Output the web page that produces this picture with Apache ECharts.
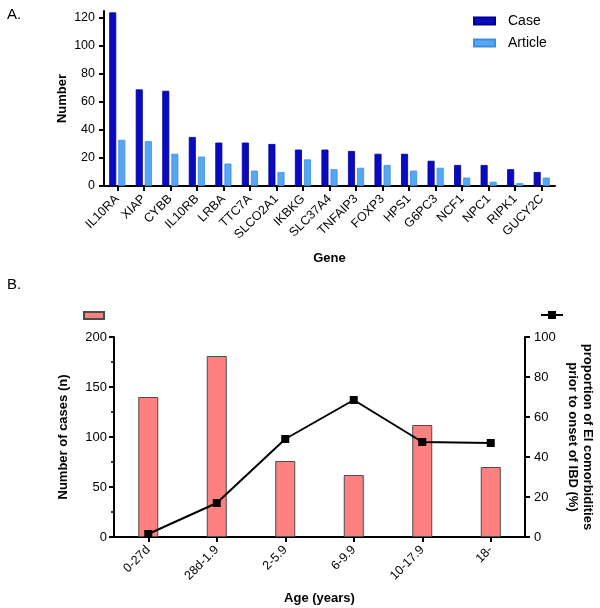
<!DOCTYPE html>
<html><head><meta charset="utf-8">
<script src="https://cdn.jsdelivr.net/npm/echarts@6/dist/echarts.min.js"></script>
<style>html,body{margin:0;padding:0;background:#fff}#c{width:600px;height:608px}</style>
</head><body><div id="c"></div>
<script>
const genes = ['IL10RA','XIAP','CYBB','IL10RB','LRBA','TTC7A','SLCO2A1','IKBKG','SLC37A4','TNFAIP3','FOXP3','HPS1','G6PC3','NCF1','NPC1','RIPK1','GUCY2C'];
const caseCounts = [124,69,68,35,31,31,30,26,26,25,23,23,18,15,15,12,10];
const articleCounts = [33,32,23,21,16,11,10,19,12,13,15,11,13,6,3,2,6];
const numberTicks = [0,20,40,60,80,100,120];

const ageGroups = ['0-27d','28d-1.9','2-5.9','6-9.9','10-17.9','18-'];
const casesByAge = [140,181,76,62,112,70];
const eiProportion = [1.5,17,49,68.5,47.5,47];

const FONT = 'Liberation Sans, Arial, sans-serif';
const axisLine = {show:true, lineStyle:{color:'#000', width:2}};
const axisTick = {show:true, length:5, lineStyle:{color:'#000', width:2}};

const chart = echarts.init(document.getElementById('c'), null, {renderer:'canvas'});
chart.setOption({
  animation:false,
  textStyle:{fontFamily:FONT},
  title:[
    {text:'A.', left:2, top:2, textStyle:{fontSize:15, fontWeight:'normal', color:'#000', fontFamily:FONT}},
    {text:'B.', left:2, top:272, textStyle:{fontSize:15, fontWeight:'normal', color:'#000', fontFamily:FONT}}
  ],
  legend:[
    {data:['Case','Article'], orient:'vertical', left:473, top:14, padding:0, itemWidth:21, itemHeight:7, itemGap:8, icon:'rect',
     textStyle:{fontSize:14, color:'#000', fontFamily:FONT, padding:[0,0,0,8]}},
    {data:['Number of cases'], left:83, top:311, padding:0, itemWidth:20, itemHeight:7, icon:'rect', formatter:()=>'',
     textStyle:{fontSize:1}},
    {data:['Proportion'], left:540, top:310, padding:0, itemWidth:22, itemHeight:10, formatter:()=>'', textStyle:{fontSize:1}}
  ],
  grid:[
    {left:104, right:45, top:11, bottom:422, containLabel:false, outerBoundsMode:'none'},
    {left:114, right:75, top:337, bottom:71, containLabel:false, outerBoundsMode:'none'}
  ],
  xAxis:[
    {type:'category', gridIndex:0, data:genes, axisLine, axisTick:{...axisTick, alignWithLabel:true},
     axisLabel:{rotate:45, fontSize:12.5, color:'#000', margin:11, interval:0, fontFamily:FONT},
     name:'Gene', nameLocation:'middle', nameGap:66, nameMoveOverlap:false,
     nameTextStyle:{fontWeight:'bold', fontSize:13, color:'#000', fontFamily:FONT}},
    {type:'category', gridIndex:1, data:ageGroups, axisLine, axisTick:{...axisTick, alignWithLabel:true},
     axisLabel:{rotate:45, fontSize:12.5, color:'#000', margin:11, interval:0, fontFamily:FONT},
     name:'Age (years)', nameLocation:'middle', nameGap:55, nameMoveOverlap:false,
     nameTextStyle:{fontWeight:'bold', fontSize:13, color:'#000', fontFamily:FONT}}
  ],
  yAxis:[
    {type:'value', gridIndex:0, min:0, max:125, interval:20, axisLine, axisTick:{...axisTick, customValues:numberTicks},
     splitLine:{show:false},
     axisLabel:{fontSize:12.5, color:'#000', margin:9, customValues:numberTicks, fontFamily:FONT},
     name:'Number', nameLocation:'middle', nameRotate:90, nameGap:35, nameMoveOverlap:false,
     nameTextStyle:{fontWeight:'bold', fontSize:13, color:'#000', fontFamily:FONT}},
    {type:'value', gridIndex:1, min:0, max:200, interval:50, axisLine, axisTick,
     minorTick:{show:true, splitNumber:2, length:3, lineStyle:{color:'#000', width:1.5}},
     splitLine:{show:false},
     axisLabel:{fontSize:13, color:'#000', margin:7, fontFamily:FONT},
     name:'Number of cases (n)', nameLocation:'middle', nameRotate:90, nameGap:44, nameMoveOverlap:false,
     nameTextStyle:{fontWeight:'bold', fontSize:13, color:'#000', fontFamily:FONT}},
    {type:'value', gridIndex:1, position:'right', min:0, max:100, interval:20, axisLine, axisTick,
     splitLine:{show:false},
     axisLabel:{fontSize:13, color:'#000', margin:9, fontFamily:FONT},
     name:'proportion of EI comorbidities\nprior to onset of IBD (%)', nameLocation:'middle', nameRotate:-90, nameGap:40, nameMoveOverlap:false,
     nameTextStyle:{fontWeight:'bold', fontSize:13, color:'#000', lineHeight:15, fontFamily:FONT}}
  ],
  series:[
    {name:'Case', type:'bar', xAxisIndex:0, yAxisIndex:0, data:caseCounts, barWidth:7, barGap:'30%',
     itemStyle:{color:'#0A0AC2', borderColor:'#000090', borderWidth:0.8}},
    {name:'Article', type:'bar', xAxisIndex:0, yAxisIndex:0, data:articleCounts, barWidth:7,
     itemStyle:{color:'#55A6F5', borderColor:'#3F8EDD', borderWidth:0.8}},
    {name:'Number of cases', type:'bar', xAxisIndex:1, yAxisIndex:1, data:casesByAge, barWidth:20,
     itemStyle:{color:'#FF8080', borderColor:'#4A4A4A', borderWidth:1}},
    {name:'Proportion', type:'line', xAxisIndex:1, yAxisIndex:2, data:eiProportion, symbol:'rect', symbolSize:8,
     itemStyle:{color:'#000'}, lineStyle:{color:'#000', width:2}, z:5}
  ]
});
</script></body></html>
